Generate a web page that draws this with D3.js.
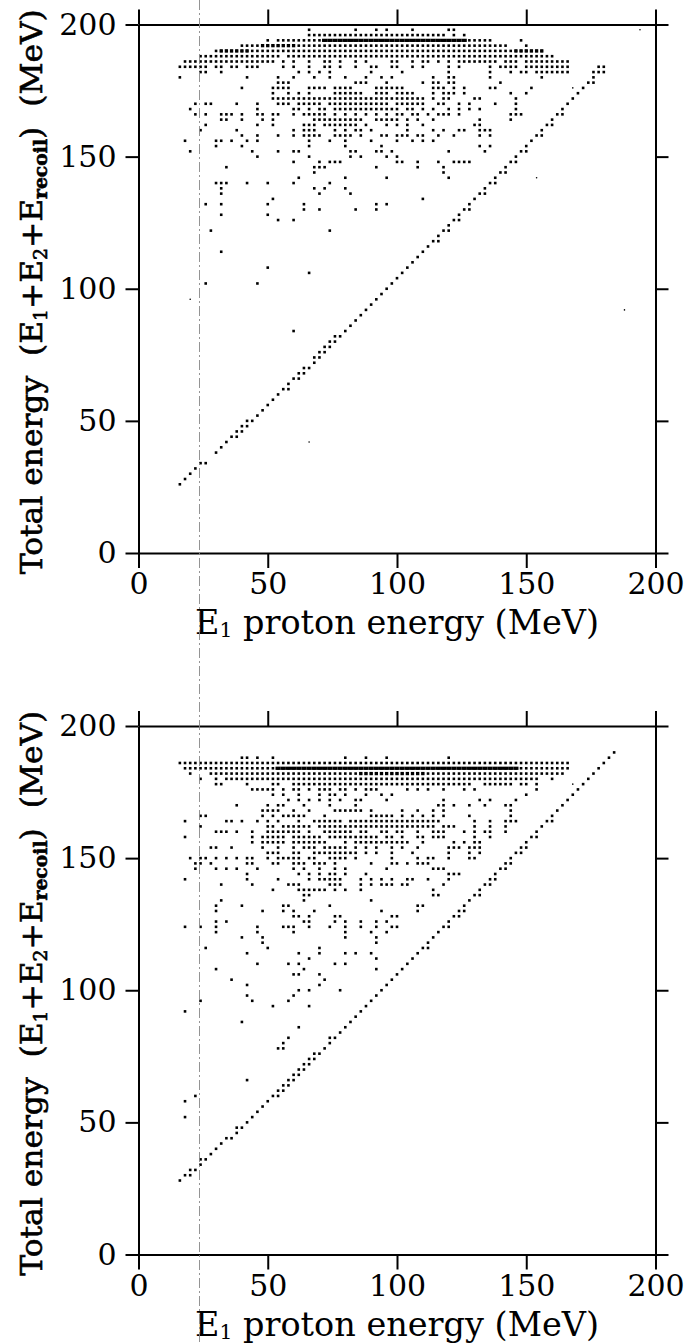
<!DOCTYPE html>
<html>
<head>
<meta charset="utf-8">
<script src="https://cdn.jsdelivr.net/npm/d3@7"></script>
<style>
  body { margin: 0; background: #fff; }
</style>
</head>
<body>
<svg id="chart" width="686" height="1344"></svg>
<script>
// axis ticks, same for both panels
const xTicks = [0, 50, 100, 150, 200];
const yTicks = [0, 50, 100, 150, 200];
// the thin dash-dot line that runs down the whole page (MeV)
const cutEnergy = 23.6;

// ---- upper panel: rows of points, [E total, "E1 values"] on a 2 MeV grid
const topRows = [
  [198, "66 84 92 96 106 120 122"],
  [196, "66 68 70 72 74 76 78 80 82 84 86 88 90 92 94 96 98 100 102 104 106 108 110 112 114 116 118 122 126"],
  [194, "50 54 56 58 60 62 64 66 68 70 72 74 76 78 80 82 84 86 88 90 92 94 96 98 100 102 104 106 108 110 112 114 116 118 120 122 124 126 128 130 132 134 136 148"],
  [192, "40 42 44 46 48 50 52 54 56 58 60 62 64 66 68 70 72 74 76 78 80 82 84 86 88 90 92 94 96 98 100 102 104 106 108 110 112 114 116 118 120 122 124 126 128 130 132 134 136 138 140 142 150"],
  [190, "30 32 34 36 38 40 42 44 46 48 50 52 54 56 58 60 62 64 66 68 70 72 74 76 78 80 82 84 86 88 90 92 94 96 98 100 102 104 106 108 110 112 114 116 118 120 122 124 126 128 130 132 134 136 138 140 142 144 146 148 150 152 154 156"],
  [188, "24 26 28 30 32 34 36 38 40 42 44 46 48 50 52 54 58 60 62 64 66 68 70 72 74 76 78 80 82 84 86 88 90 92 94 96 98 100 102 104 106 108 110 112 114 116 118 120 122 124 126 128 130 132 134 136 138 140 142 144 146 148 150 152 154 156 158 160"],
  [186, "18 20 22 24 26 28 30 32 34 36 38 40 42 44 46 48 50 52 56 60 66 72 74 78 84 88 98 100 106 110 112 116 120 124 126 128 130 132 134 136 138 142 144 146 150 152 154 156 158 160 162 164 166"],
  [184, "16 18 20 22 24 26 30 32 36 38 42 44 46 56 60 66 72 74 78 84 90 92 98 100 106 110 120 124 136 140 142 144 146 150 152 154 156 158 160 162 164 166"],
  [182, "24 26 32 62 66 70 74 90 102 120 136 144 148 150 154 156 158 160 162 164 166"],
  [180, "16 42 54 60 68 74 80 88 94 98 114 120 122 136 156"],
  [178, "54 56 58 84 86 88 96 110 114 116 120 122 140"],
  [176, "40 52 54 56 58 66 68 70 72 76 78 80 82 92 94 96 98 100 102 114 116 118 122 126 136 138 152"],
  [174, "52 58 62 66 76 78 80 82 84 86 92 94 96 100 102 104 106 114 118 120 122 126 144 150"],
  [172, "52 54 56 58 60 62 64 66 68 70 72 74 76 78 80 82 84 86 88 90 92 94 96 98 100 102 104 106 108 110 114 118 120 130 132 146"],
  [170, "22 26 28 38 46 54 56 58 62 64 66 68 70 74 76 78 80 82 84 86 88 90 92 94 96 100 102 104 106 108 110 116 118 124 128 138 146"],
  [168, "20 46 60 62 66 70 72 76 78 80 82 84 86 88 90 92 94 96 98 100 104 106 110 114 120 124 128 132 146"],
  [166, "22 26 32 34 36 40 46 48 52 54 60 64 66 68 70 72 76 80 84 88 92 96 100 102 106 108 112 116 118 120 124 144 146 148"],
  [164, "32 34 40 48 52 68 70 72 74 76 78 80 82 84 86 92 94 96 98 100 104 108 114 132 144"],
  [162, "26 46 52 64 66 68 72 74 76 78 80 82 84 88 96 100 104 110 130 132"],
  [160, "24 38 60 64 66 68 76 80 84 86 90 104 114 118 124 126 132 134 136"],
  [158, "40 46 54 60 64 66 68 70 76 78 80 82 86 94 96 100 102 104 108 110 116 122 132 136"],
  [156, "18 30 32 36 42 46 66 74 80 90 100 106 110 114"],
  [154, "30 40 66 80 94 132 136"],
  [152, "20 44 54 60 62 82 84 92 94 98 120 134"],
  [150, "46 66 82 86 96 100"],
  [148, "60 70 74 76 78 100 102 108 116 122 124 126 128"],
  [146, "34 68 70 72 92 108 118"],
  [144, "68 118"],
  [142, "62 80 96 120"],
  [140, "30 32 34 42 50 60 74"],
  [138, "32 68 72 80"],
  [136, "32 70 82"],
  [134, "52 110"],
  [132, "26 32 50 64 92 96"],
  [130, "64 70 84 92"],
  [128, "32 50"],
  [126, "54 60"],
  [122, "28 74"],
  [114, "32"],
  [108, "50"],
  [106, "66"],
  [102, "26 46"],
  [84, "60"]
];
// where the dots pile up into one solid bar
const topBar = [
  [194, "72 74 76 78 80 82 84 86 88 90 92 94 96 98 100 102 104 106 108 110 112 114 116 118 120 122 124 126"]
];
// cells drawn with a heavier dot
const topBold = [
  [192, "48 50 52 54 56 58 60"],
  [190, "32 34 36 38 40 42 146 148 150 152 154 156"]
];
// the diagonal band, "E1,Etotal"
const topDiagonal = "16,26 18,28 20,30 22,32 24,34 26,34 30,38 32,40 34,42 36,44 38,44 38,46 40,46 40,48 42,48 42,50 44,50 46,52 48,54 50,56 52,58 54,60 56,62 58,62 58,64 60,66 62,66 62,68 64,68 64,70 66,70 68,72 68,74 70,74 70,76 72,76 72,78 74,78 74,80 76,80 76,82 78,82 80,84 82,86 84,88 86,90 88,92 90,94 92,96 94,98 96,100 98,102 100,104 102,106 104,108 106,110 108,112 110,114 112,116 114,118 116,118 116,120 118,122 120,122 120,124 122,126 124,126 124,128 126,130 128,130 128,132 130,134 132,136 134,136 134,138 136,140 138,140 138,142 140,144 142,144 142,146 144,148 146,148 146,150 148,152 150,152 150,154 152,156 154,158 156,158 156,160 158,162 160,162 160,164 162,166 164,166 164,168 166,170 168,172 170,174 172,176 174,178 176,178 176,180 176,182 178,182 180,182 178,184 180,184";
// faint single specks
const topTiny = "194,198 154,142 188,92 66,42 20,96 168,176";

// ---- lower panel
const bottomRows = [
  [188, "40 42 46 52 80 88 96 120"],
  [186, "16 18 20 22 24 26 28 30 32 34 36 38 40 42 44 46 48 50 52 54 56 58 60 62 64 66 68 70 72 74 76 78 80 82 84 86 88 90 92 94 96 98 100 102 104 106 108 110 112 114 116 118 120 122 124 126 128 130 132 134 136 138 140 142 144 146 148 150 152 154 156 158 160 162 164 166"],
  [184, "18 20 22 24 26 28 30 32 34 36 38 40 42 44 46 48 50 52 54 56 58 60 62 64 66 68 70 72 74 76 78 80 82 84 86 88 90 92 94 96 98 100 102 104 106 108 110 112 114 116 118 120 122 124 126 128 130 132 134 136 138 140 142 144 146 148 150 152 154 156 158 160 162 164 166"],
  [182, "20 28 30 32 34 36 38 40 42 44 46 48 50 52 54 56 58 60 62 64 66 68 70 72 74 76 78 80 82 84 86 88 90 92 94 96 98 100 102 104 106 108 110 112 114 116 118 120 122 124 126 128 130 132 134 136 138 140 142 144 146 148 150 152 154 156 158 160 162 164"],
  [180, "24 30 34 36 38 40 42 44 46 48 50 52 54 56 58 60 62 64 66 68 70 72 74 76 78 80 82 84 86 88 90 92 94 96 98 100 102 104 106 108 110 112 114 116 118 120 122 124 126 128 130 132 134 136 138 140 142 144 146 148 150 152 154 160"],
  [178, "30 32 42 52 54 60 62 64 66 68 70 72 74 76 78 80 82 84 86 88 90 92 94 96 98 100 102 104 106 108 110 112 114 116 118 120 122 124 126 128 134 136 138 140 142 144 148 150 154"],
  [176, "44 46 48 50 52 56 60 62 66 70 72 74 78 80 84 88 90 92 104 108 112 118 126 130 154"],
  [174, "52 56 62 70 74 76 80 88 94 98 150"],
  [172, "58 62 66 70 74 78 84 86 96 118 132 136 146"],
  [170, "38 50 54 56 64 74 84 116 118 122 128 134 142 144"],
  [168, "48 50 52 54 60 66 76 78 80 82 84 86 90 102 108 114 118 144"],
  [166, "24 26 48 52 56 58 60 62 64 72 90 92 94 96 98 102 106 110 114 118 128 144"],
  [164, "18 34 36 40 46 50 54 62 68 70 72 74 76 78 82 84 86 88 90 92 94 96 98 100 102 104 106 108 110 112 114 116 130 136 142 144 146"],
  [162, "24 50 52 56 58 60 62 64 66 70 72 74 76 78 80 82 84 86 88 90 92 94 96 98 100 102 104 106 108 110 112 114 118 120 122 130 136 142"],
  [160, "30 32 34 38 44 50 52 54 56 58 60 62 66 72 74 76 78 80 82 86 88 94 96 100 102 108 114 116 118 126 130 134 136 142"],
  [158, "18 44 48 50 52 54 56 60 62 64 66 68 70 74 76 78 80 82 84 86 88 90 92 96 98 102 108 110 114 116 118 130 136"],
  [156, "44 48 50 52 54 56 60 62 64 66 68 70 72 80 84 86 88 90 92 94 96 98 100 102 104 110 122 126 130 132"],
  [154, "28 30 36 48 54 60 64 66 68 72 74 76 78 80 84 88 92 98 102 108 120 122 124 128 130 132"],
  [152, "50 52 54 60 62 68 70 72 74 76 78 80 82 84 88 92 98 106 120 128 132"],
  [150, "20 24 26 30 34 38 42 44 50 54 56 58 60 62 66 68 74 76 78 80 84 98 108 112 114 120 128 130"],
  [148, "22 24 28 42 44 52 54 60 62 64 68 70 72 76 90 98 100 104 108 110 112"],
  [146, "22 30 34 38 46 60 64 70 76 80 96 114 116 118"],
  [144, "42 62 66 70 74 76 80 88 120 122 124"],
  [142, "18 42 54 66 70 72 74 76 78 86 90 94 98 104 106 112 120"],
  [140, "32 44 58 60 62 74 76 78 86 90 94 96 98 102 104 118"],
  [138, "52 62 64 66 68 70 72 76 80 86 114"],
  [136, "64 66 114 116"],
  [134, "32 64 90"],
  [132, "30 40 56 58 74 108 110"],
  [130, "30 48 56 60 68 94 108"],
  [128, "60 62 66 76 78 98 100"],
  [126, "30 34 64 66 76 80 86 92 96"],
  [124, "18 24 30 46 56 58 60 66 74 80 86 92 98 100"],
  [122, "30 46 60 80 90 96"],
  [120, "40 48 80 92"],
  [118, "48 92"],
  [116, "26 50 70"],
  [114, "42 62 70 80 84 90"],
  [112, "66 92"],
  [110, "46 58 62 76 80"],
  [108, "30 64 92"],
  [106, "60 62 70"],
  [104, "36 72"],
  [102, "42 70"],
  [100, "62 66 78"],
  [98, "42 60"],
  [96, "24 44 58"],
  [94, "52 66"],
  [92, "18"],
  [88, "40"],
  [86, "62"],
  [82, "58"],
  [80, "56"],
  [78, "54 56"],
  [66, "42"],
  [60, "22"],
  [58, "18"],
  [52, "18"]
];
const bottomBar = [
  [184, "54 56 58 60 62 64 66 68 70 72 74 76 78 80 82 84 86 88 90 92 94 96 98 100 102 104 106 108 110 112 114 116 118 120 122 124 126 128 130 132 134 136 138 140 142 144 146"]
];
const bottomBold = [
  [182, "86 88 90 92 94 96 98 100 102 104 106 108 110"]
];
const bottomDiagonal = "16,28 18,30 20,30 20,32 22,32 24,34 24,36 26,36 28,38 30,40 32,42 34,44 36,44 38,46 38,48 40,48 42,50 44,52 46,54 48,56 50,58 52,60 54,60 54,62 56,62 56,64 58,64 58,66 60,66 60,68 62,68 62,70 64,70 64,72 66,72 66,74 68,74 68,76 70,76 72,78 74,80 74,82 76,82 78,84 80,86 82,88 84,90 86,92 88,94 90,96 92,98 94,100 96,102 98,104 100,106 102,108 104,110 106,112 108,114 110,116 112,116 112,118 114,120 116,122 118,124 120,124 120,126 122,128 124,128 124,130 126,130 126,132 128,134 130,136 132,136 132,138 134,140 136,140 136,142 138,142 138,144 140,146 142,146 142,148 144,148 144,150 146,152 148,152 148,154 150,154 150,156 152,158 154,158 154,160 156,162 158,164 160,164 160,166 162,168 164,170 166,172 168,174 170,176 172,178 174,180 176,182 178,184 180,186 182,188 184,190";
const bottomTiny = "168,178";

// ---------------------------------------------------------------
const svg = d3.select("#chart");
svg.append("rect").attr("width", 686).attr("height", 1344).attr("fill", "#fff");

const fromRows = rows => rows.flatMap(([y, s]) => s.split(" ").map(x => ({x: +x, y: y})));
const fromPairs = s => s.split(" ").map(p => { const v = p.split(",").map(Number); return {x: v[0], y: v[1]}; });

const x = d3.scaleLinear().domain([0, 200]).range([138.5, 655.5]);

const panels = [
  {top: 24.5, rows: topRows, bar: topBar, bold: topBold, diag: topDiagonal, tiny: topTiny},
  {top: 726, rows: bottomRows, bar: bottomBar, bold: bottomBold, diag: bottomDiagonal, tiny: bottomTiny}
];

const serif = '"DejaVu Serif", "Liberation Serif", serif';
const dot = 2.6;

panels.forEach(p => {
  const y = d3.scaleLinear().domain([0, 200]).range([p.top + 528.5, p.top]);
  const g = svg.append("g");

  // frame with outward ticks on all four sides
  g.append("g").attr("transform", `translate(0,${y(0)})`)
    .call(d3.axisBottom(x).tickValues(xTicks).tickSize(15).tickSizeOuter(0).tickPadding(5));
  g.append("g").attr("transform", `translate(0,${y(200)})`)
    .call(d3.axisTop(x).tickValues(xTicks).tickSize(15).tickSizeOuter(0).tickFormat(""));
  g.append("g").attr("transform", `translate(${x(0)},0)`)
    .call(d3.axisLeft(y).tickValues(yTicks).tickSize(13).tickSizeOuter(0).tickPadding(9));
  g.append("g").attr("transform", `translate(${x(200)},0)`)
    .call(d3.axisRight(y).tickValues(yTicks).tickSize(13).tickSizeOuter(0).tickFormat(""));

  g.selectAll(".domain").attr("stroke", "#000").attr("stroke-width", 2);
  g.selectAll(".tick line").attr("stroke", "#000").attr("stroke-width", 2);
  g.selectAll(".tick text").attr("fill", "#000")
    .style("font-family", serif).style("font-size", "30px");

  // points
  const dots = g.append("g").attr("fill", "#000");
  const square = (cls, data, s) => dots.selectAll("." + cls).data(data).join("rect").attr("class", cls)
    .attr("x", d => x(d.x) - s / 2).attr("y", d => y(d.y) - s / 2)
    .attr("width", s).attr("height", s);
  square("pt", fromRows(p.rows), dot);
  square("dg", fromPairs(p.diag), dot);
  square("bd", fromRows(p.bold), 3.3);
  // bar cells fill their whole 2 MeV width
  dots.selectAll(".br").data(fromRows(p.bar)).join("rect").attr("class", "br")
    .attr("x", d => x(d.x - 1)).attr("y", d => y(d.y) - 1.6)
    .attr("width", x(2) - x(0)).attr("height", 3.2);
  dots.selectAll(".tn").data(fromPairs(p.tiny)).join("circle").attr("class", "tn")
    .attr("cx", d => x(d.x)).attr("cy", d => y(d.y)).attr("r", 0.8);

  // y title
  const yt = g.append("text")
    .attr("transform", `translate(42,${(y(0) + y(200)) / 2 + 3}) rotate(-90)`)
    .attr("text-anchor", "middle")
    .attr("textLength", 565).attr("lengthAdjust", "spacingAndGlyphs")
    .attr("fill", "#000").attr("stroke", "#000").attr("stroke-width", 0.6)
    .style("font-family", serif).style("font-size", "30px");
  yt.append("tspan").text("Total energy\u00a0\u00a0(E");
  yt.append("tspan").attr("dy", 5).style("font-size", "18px").text("1");
  yt.append("tspan").attr("dy", -5).text("+E");
  yt.append("tspan").attr("dy", 5).style("font-size", "18px").text("2");
  yt.append("tspan").attr("dy", -5).text("+E");
  yt.append("tspan").attr("dy", 5).style("font-size", "18px").style("font-weight", "bold").text("recoil");
  yt.append("tspan").attr("dy", -5).text(")\u00a0\u00a0(MeV)");

  // x title
  const xt = g.append("text")
    .attr("transform", `translate(${(x(0) + x(200)) / 2},${y(0) + 81})`)
    .attr("text-anchor", "middle")
    .attr("textLength", 404).attr("lengthAdjust", "spacingAndGlyphs")
    .attr("fill", "#000")
    .style("font-family", serif).style("font-size", "33px");
  xt.append("tspan").text("E");
  xt.append("tspan").attr("dy", 3).style("font-size", "20px").text("1");
  xt.append("tspan").attr("dy", -3).text("\u00a0proton energy (MeV)");
});

// dash-dot line across the whole page
svg.append("line")
  .attr("x1", x(cutEnergy)).attr("x2", x(cutEnergy))
  .attr("y1", 0).attr("y2", 1344)
  .attr("stroke", "#888").attr("stroke-width", 0.9)
  .attr("stroke-dasharray", "10,3,2,3");
</script>
</body>
</html>
